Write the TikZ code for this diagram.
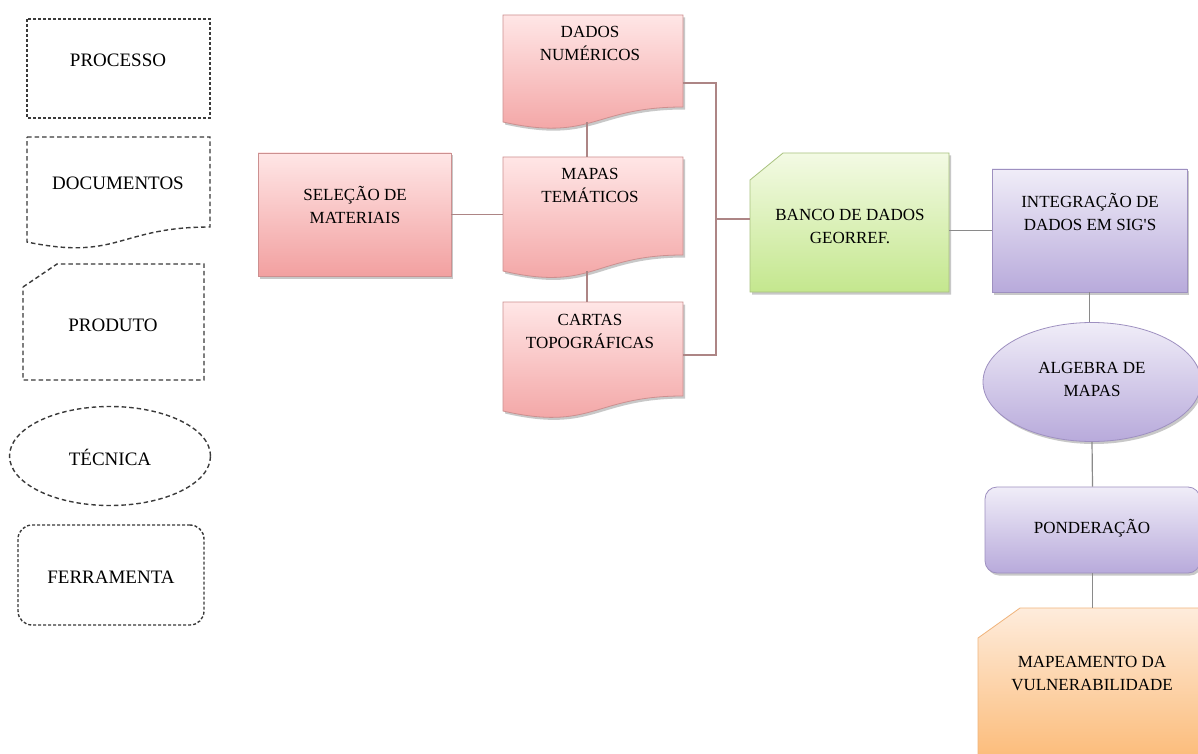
\documentclass[tikz,border=0pt]{standalone}
\usepackage{fontspec}
\setmainfont{Liberation Serif}
\newfontfamily\rawserif{Liberation Serif}
\usetikzlibrary{shapes.geometric,shadows}
\definecolor{legc}{HTML}{3A3A3A}
\definecolor{redT}{HTML}{FFE6E6}
\definecolor{redB}{HTML}{F2A0A0}
\definecolor{redD}{HTML}{CC9090}
\definecolor{grnT}{HTML}{F3FAE4}
\definecolor{grnB}{HTML}{C4E78E}
\definecolor{grnD}{HTML}{A9C27F}
\definecolor{purT}{HTML}{F0EDF8}
\definecolor{purB}{HTML}{B8AADB}
\definecolor{purD}{HTML}{9E90C0}
\definecolor{orT}{HTML}{FEECDC}
\definecolor{orB}{HTML}{FBB56C}
\definecolor{orD}{HTML}{F0B47C}
\definecolor{conB}{HTML}{AD8585}
\definecolor{conG}{HTML}{8A8A8A}
\tikzset{
  leg/.style={draw=legc, line width=1.4pt, dash pattern=on 4.5pt off 3pt},
  txt/.style={align=center, inner sep=0pt, text=black},
  legtxt/.style={txt, font=\fontsize{19}{23}\selectfont},
  geo/.style={draw=none, inner sep=0pt, rectangle},
  shad/.style={drop shadow={shadow xshift=2pt, shadow yshift=-2.5pt, opacity=0.3, fill=black!70}},
  redbox/.style={draw=redD, line width=0.8pt, top color=redT, bottom color=redB, shad},
  grnbox/.style={draw=grnD, line width=0.8pt, top color=grnT, bottom color=grnB, shad},
  purbox/.style={draw=purD, line width=0.8pt, top color=purT, bottom color=purB, shad},
  orbox/.style={draw=orD, line width=0.8pt, top color=orT, bottom color=orB, shad},
  conL/.style={draw=conB, line width=1.2pt},
  conR/.style={draw=conG, line width=1.2pt},
}
\begin{document}
\begin{tikzpicture}[x=1pt,y=-1pt,font=\fontsize{17}{23}\selectfont]
\useasboundingbox (0,0) rectangle (1198,754);
\clip (0,0) rectangle (1198,754);
\fill[white] (0,0) rectangle (1198,754);

% ---------- legend ----------
\draw[leg, dash pattern=on 3pt off 2pt] (27,19) rectangle (210,118);
\node[legtxt] (procT) at (118,60) {PROCESSO};
\draw[leg] (27,137) -- (210,137) -- (210,227) .. controls (118.5,227) and (118.5,261) .. (27,242) -- cycle;
\node[legtxt] (docT) at (118,183) {DOCUMENTOS};
\draw[leg] (23,287) -- (57,264) -- (204,264) -- (204,380) -- (23,380) -- cycle;
\node[legtxt] (prodT) at (113,325) {PRODUTO};
\node[leg, ellipse, minimum width=201, minimum height=99, inner sep=0pt] (tec) at (110,456) {};
\node[legtxt] (tecT) at (110,457) {TÉCNICA};
\node[leg, dash pattern=on 3pt off 2pt, rectangle, rounded corners=14pt, minimum width=186, minimum height=100] (fer) at (111,575) {};
\node[legtxt] (ferT) at (111,577) {FERRAMENTA};

% ---------- red group ----------
\node[redbox, rectangle, minimum width=193, minimum height=123, inner sep=0pt] (sel) at (354.5,214.5) {};
\node[txt] (selT) at (355,205) {SELEÇÃO DE\\MATERIAIS};

\draw[redbox] (503,15) -- (683,15) -- (683,107) .. controls (593,107) and (593,142) .. (503,122) -- cycle;
\node[geo, minimum width=180, minimum height=107] (dados) at (593,68.5) {};
\node[txt] (dadosT) at (590,43) {DADOS\\NUMÉRICOS};

\draw[redbox] (503,157) -- (683,157) -- (683,255) .. controls (593,255) and (593,292) .. (503,271) -- cycle;
\node[geo, minimum width=180, minimum height=114] (mapas) at (593,214) {};
\node[txt] (mapasT) at (590,185) {MAPAS\\TEMÁTICOS};

\draw[redbox] (503,302) -- (683,302) -- (683,396) .. controls (593,396) and (593,431.5) .. (503,411) -- cycle;
\node[geo, minimum width=180, minimum height=109] (cartas) at (593,356.5) {};
\node[txt] (cartasT) at (590,331) {CARTAS\\TOPOGRÁFICAS};

% ---------- green ----------
\draw[grnbox] (750,180) -- (783,153) -- (949,153) -- (949,292) -- (750,292) -- cycle;
\node[geo, minimum width=199, minimum height=139] (banco) at (849.5,222.5) {};
\node[txt] (bancoT) at (850,226) {BANCO DE DADOS\\GEORREF.};

% ---------- purple ----------
\node[purbox, rectangle, minimum width=195, minimum height=123, inner sep=0pt] (integ) at (1089.5,230.5) {};
\node[txt] (integT) at (1090,212) {INTEGRAÇÃO DE\\DADOS EM SIG{\rawserif '}S};

\node[purbox, ellipse, minimum width=218, minimum height=119, inner sep=0pt] (alg) at (1092,382) {};
\node[txt] (algT) at (1092,379) {ALGEBRA DE\\MAPAS};

\node[purbox, rectangle, rounded corners=12pt, minimum width=215, minimum height=86, inner sep=0pt] (pond) at (1092.5,530) {};
\node[txt] (pondT) at (1092,528) {PONDERAÇÃO};

% ---------- orange ----------
\draw[orbox] (978,638) -- (1020,608) -- (1210,608) -- (1210,780) -- (978,780) -- cycle;
\node[geo, minimum width=220, minimum height=146] (mapeam) at (1088,681) {};
\node[txt] (mapeamT) at (1092,673) {MAPEAMENTO DA\\VULNERABILIDADE};

% ---------- connectors ----------
\draw[conL] (sel.east) -- (sel.east -| mapas.west);
\draw[conL] ([xshift=-6pt]dados.south) -- ([xshift=-6pt]mapas.north);
\draw[conL] ([xshift=-6pt]mapas.south) -- ([xshift=-6pt]cartas.north);
\coordinate (dR) at (683,83);
\coordinate (cR) at (683,355);
\coordinate (bx) at (716,219);
\draw[conL] (dR) -| (bx) |- (cR);
\draw[conL] (bx) -- (bx -| banco.west);
\draw[conR] (integ.west -| banco.east) -- (integ.west);
\draw[conR] (integ.south) -- (integ.south |- alg.north);
\draw[conR] (alg.south) -- (pond.north);
\draw[conR] (pond.south) -- (pond.south |- mapeam.north);
\end{tikzpicture}
\end{document}
